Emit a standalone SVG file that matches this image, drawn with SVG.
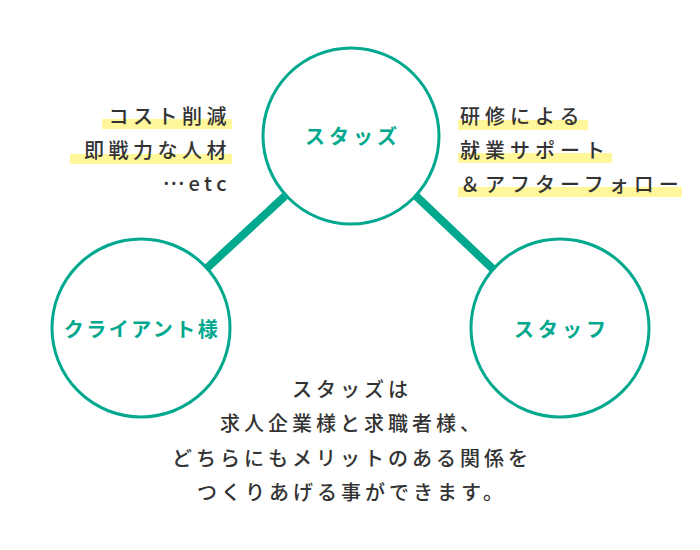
<svg xmlns="http://www.w3.org/2000/svg" width="700" height="550" viewBox="0 0 700 550">
<style>
.ring{fill:#fff;stroke:#00a88e;stroke-width:3}
.lbl{font-family:"Noto Sans CJK JP","Noto Sans",sans-serif;font-size:20px;font-weight:700;fill:#00a88e;text-anchor:middle}
.txt{font-family:"Noto Sans CJK JP","Noto Sans",sans-serif;font-size:20px;font-weight:500;fill:#333}
.hl{fill:#fff799}
.conn{stroke:#00a88e;stroke-width:8}
</style>
<rect width="700" height="550" fill="#fff"/>
<g id="connectors">
<line class="conn" x1="285" y1="196" x2="207" y2="268"/>
<line class="conn" x1="416" y1="196" x2="494" y2="270"/>
</g>
<g id="note-left">
<rect class="hl" x="102" y="119" width="130" height="10"/>
<rect class="hl" x="70" y="154" width="162" height="10"/>
<text class="txt" x="231" y="124" text-anchor="end" letter-spacing="4.5">コスト削減</text>
<text class="txt" x="231" y="158" text-anchor="end" letter-spacing="4.5">即戦力な人材</text>
<text class="txt" x="231" y="191" text-anchor="end" letter-spacing="4.5"><tspan dy="-6">…</tspan><tspan dy="6">etc</tspan></text>
</g>
<g id="note-right">
<rect class="hl" x="458" y="120" width="130" height="10"/>
<rect class="hl" x="458" y="153" width="154" height="10"/>
<rect class="hl" x="458" y="187" width="224" height="10"/>
<text class="txt" x="460" y="124" letter-spacing="5">研修による</text>
<text class="txt" x="460" y="158" letter-spacing="5">就業サポート</text>
<text class="txt" x="460" y="192" letter-spacing="5">＆アフターフォロー</text>
</g>
<g id="node-staz">
<circle class="ring" cx="351" cy="136" r="88"/>
<text class="lbl" x="353" y="144" letter-spacing="4">スタッズ</text>
</g>
<g id="node-client">
<circle class="ring" cx="141" cy="328" r="89"/>
<text class="lbl" x="142" y="337" letter-spacing="2.5">クライアント様</text>
</g>
<g id="node-staff">
<circle class="ring" cx="560" cy="328" r="89"/>
<text class="lbl" x="562" y="337" letter-spacing="4">スタッフ</text>
</g>
<g id="caption">
<text class="txt" x="352" y="397" text-anchor="middle" letter-spacing="4">スタッズは</text>
<text class="txt" x="352" y="431" text-anchor="middle" letter-spacing="4">求人企業様と求職者様、</text>
<text class="txt" x="352" y="466" text-anchor="middle" letter-spacing="4">どちらにもメリットのある関係を</text>
<text class="txt" x="352" y="500" text-anchor="middle" letter-spacing="4">つくりあげる事ができます。</text>
</g>
</svg>
